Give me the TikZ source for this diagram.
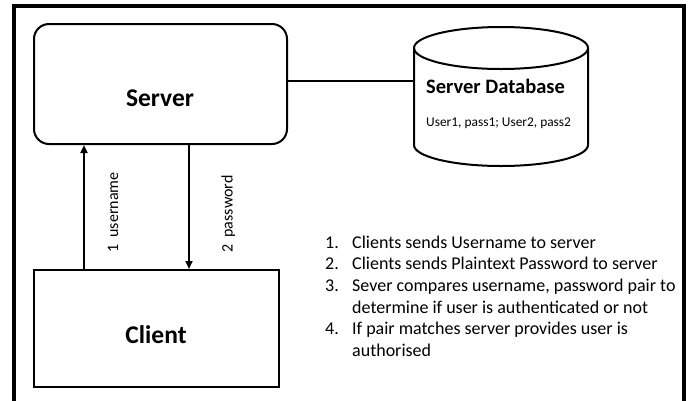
\documentclass[tikz,border=0pt]{standalone}
\usepackage{fontspec}
\setmainfont{Carlito}
\usetikzlibrary{arrows.meta}
\begin{document}
\begin{tikzpicture}[x=1pt,y=-1pt,
  frame/.style={line width=3.5pt},
  box/.style={draw,line width=2pt,inner sep=0pt},
  link/.style={line width=2pt},
  arr/.style={line width=2pt,-{Triangle[length=8pt,width=7pt]}},
  bigtext/.style={font=\bfseries\fontsize{25.5}{30}\selectfont},
  dbtitle/.style={font=\bfseries\fontsize{20.5}{24}\selectfont},
  dbtext/.style={font=\fontsize{13.4}{16}\selectfont},
  steplabel/.style={font=\fontsize{16}{19}\selectfont,rotate=90,anchor=base west,inner sep=0pt},
  listnum/.style={font=\fontsize{18}{22}\selectfont,anchor=base west,inner sep=0pt},
  listline/.style={font=\fontsize{18}{22}\selectfont,anchor=base west,inner sep=0pt}]
\useasboundingbox (0,0) rectangle (691,400);
\fill[white] (0,0) rectangle (691,400);

% outer frame (open at the bottom)
\draw[frame] (14,402) -- (14,6) -- (684,6) -- (684,402);

% server and client boxes
\node[box,rounded corners=15pt,minimum width=253pt,minimum height=120pt] (server) at (160.5,84) {};
\node[bigtext] (servertext) at (160,98) {Server};
\node[box,minimum width=245pt,minimum height=117pt] (client) at (156.5,328.5) {};
\node[bigtext] (clienttext) at (156,335) {Client};

% database cylinder
\draw[link] (501,48) ellipse [x radius=87pt, y radius=21pt];
\draw[link] (414,48) -- (414,145) arc[start angle=180, end angle=360, x radius=87pt, y radius=21pt] -- (588,48);
\coordinate (dbL) at (414,81);
\node[dbtitle,anchor=base west,inner sep=0pt] (dbname) at (426,93) {Server Database};
\node[dbtext,anchor=base west,inner sep=0pt] (dbdata) at (426,126.5) {User1, pass1; User2, pass2};

% server to database link
\draw[link] (server.east |- dbL) -- (dbL);

% request arrows
\draw[arr] (client.north -| 84,0) -- (server.south -| 84,0);
\draw[arr] (server.south -| 189,0) -- (client.north -| 189,0);
\node[steplabel] (l1) at (118,253) {1\ \ username};
\node[steplabel] (l2) at (232.5,253) {2\ \ password};

% numbered steps
\node[listnum] (n1) at (325,248) {1.};
\node[listline] (t1) at (352,248) {Clients sends Username to server};
\node[listnum] (n2) at (325,269.7) {2.};
\node[listline] (t2) at (352,269.7) {Clients sends Plaintext Password to server};
\node[listnum] (n3) at (325,291.4) {3.};
\node[listline] (t3) at (352,291.4) {Sever compares username, password pair to};
\node[listline] (t3b) at (352,313.1) {determine if user is authenticated or not};
\node[listnum] (n4) at (325,334.8) {4.};
\node[listline] (t4) at (352,334.8) {If pair matches server provides user is};
\node[listline] (t4b) at (352,356.5) {authorised};
\end{tikzpicture}
\end{document}
